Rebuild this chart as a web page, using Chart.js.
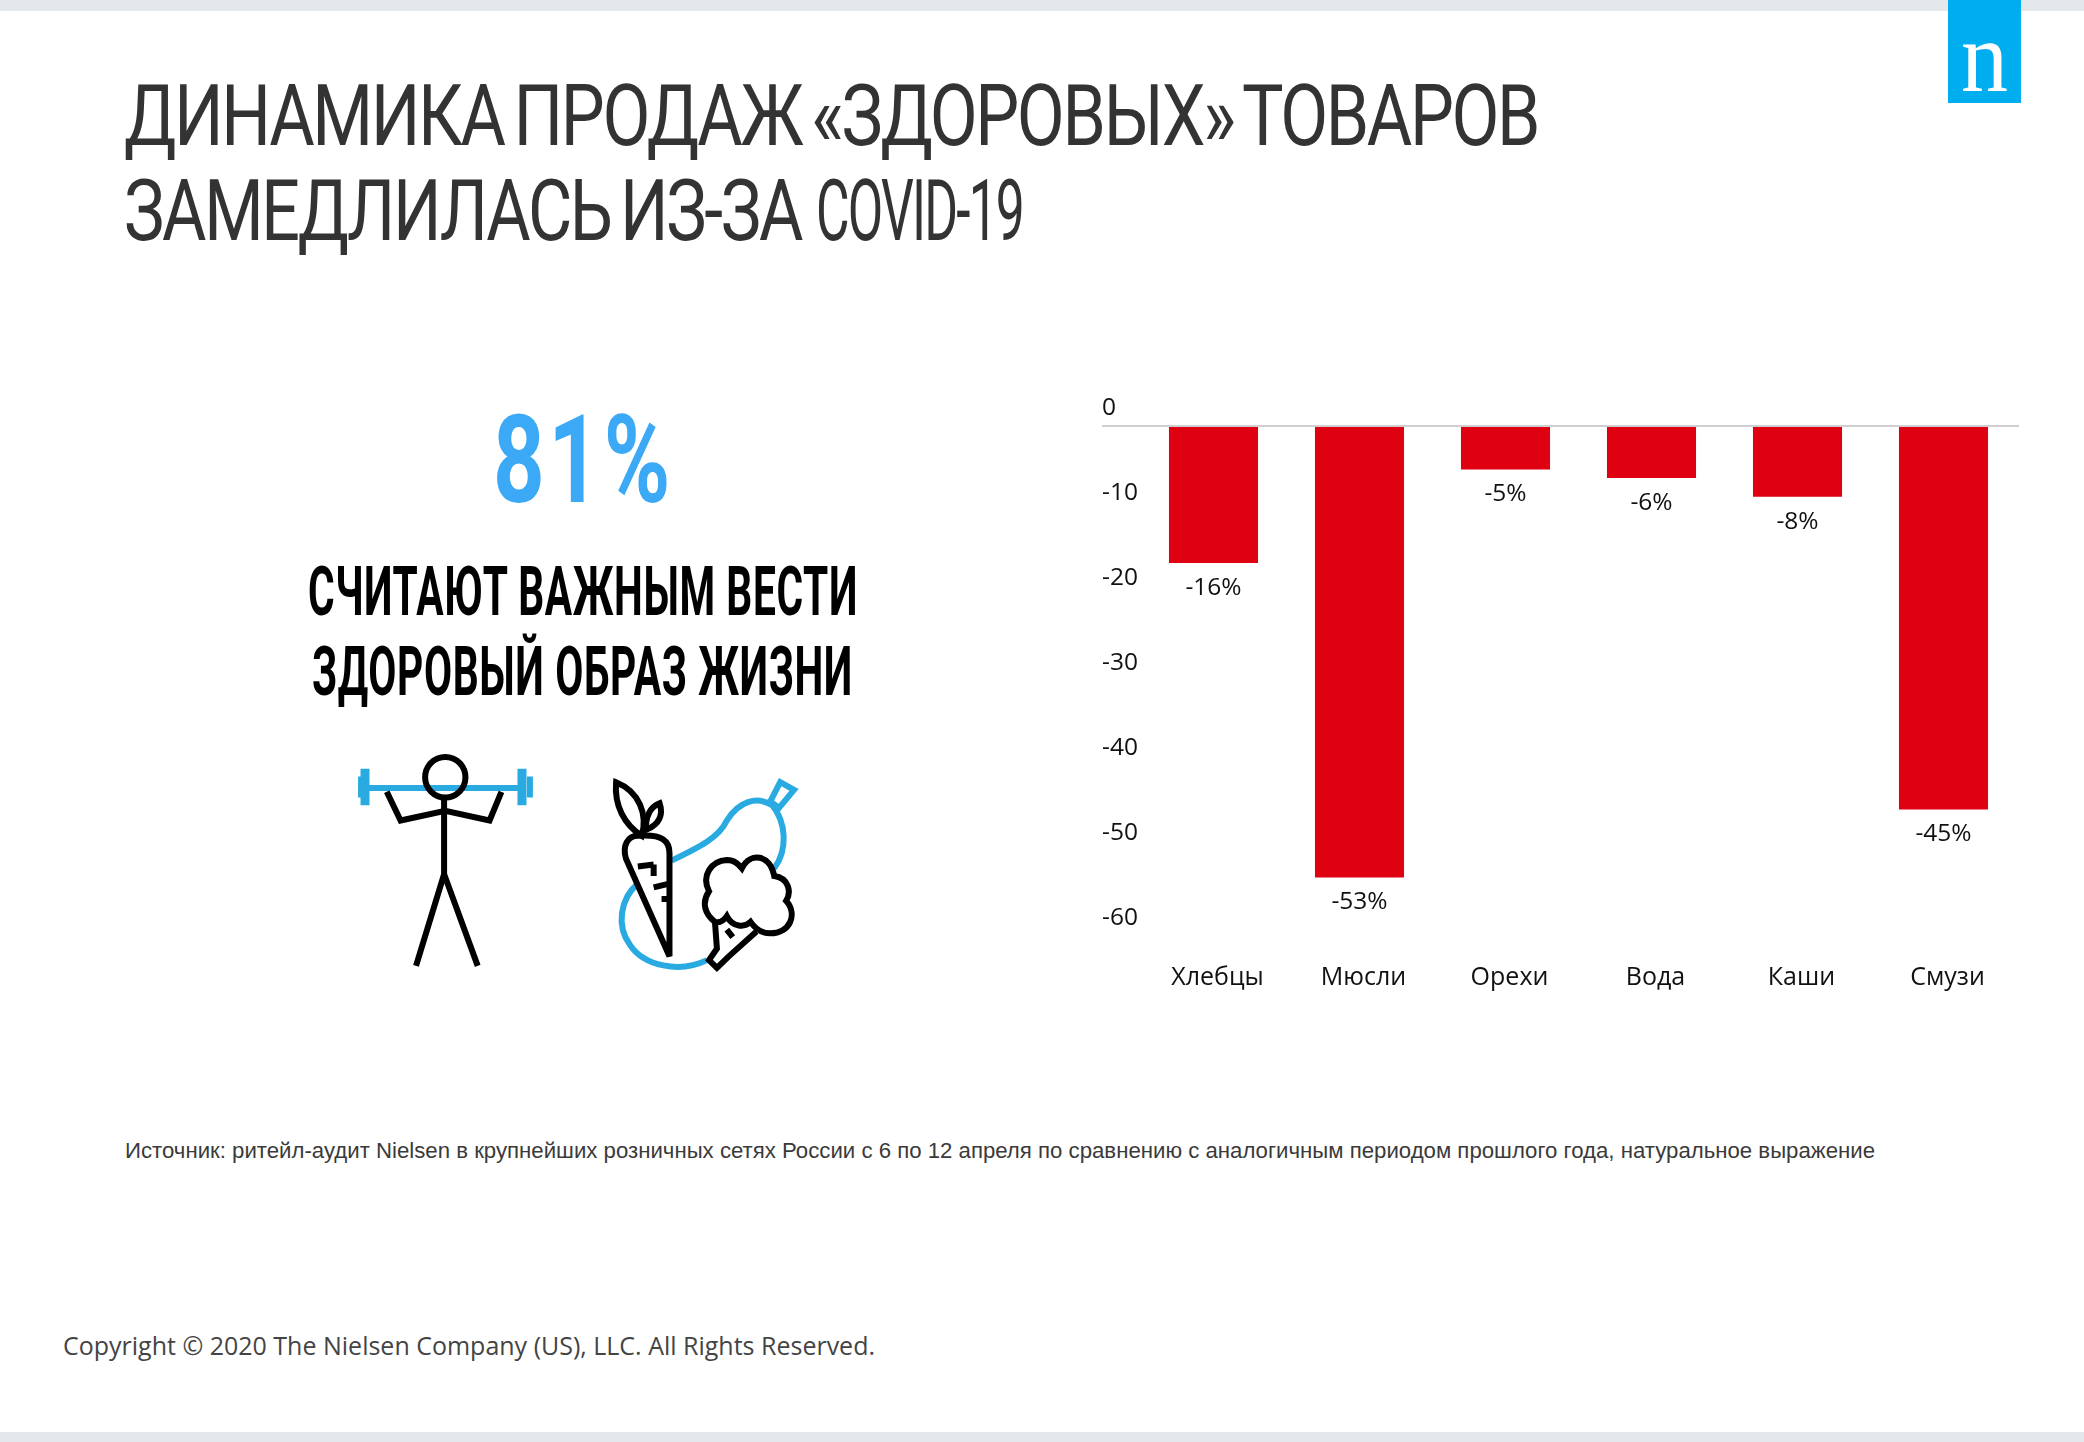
<!DOCTYPE html>
<html lang="ru"><head><meta charset="utf-8">
<script src="https://cdn.jsdelivr.net/npm/chart.js@4"></script>
<style>
html,body{margin:0;padding:0;background:#fff;width:2084px;height:1442px;overflow:hidden}
.band{position:absolute;left:0;width:2084px;height:11px;background:#E4E8EB}
.t{position:absolute;white-space:nowrap;transform-origin:0 0;display:inline-block;line-height:1}
.title{font:400 86px/1 Roboto;color:#333;letter-spacing:-3px;word-spacing:-6px}
#logo{position:absolute;left:1948px;top:0;width:73px;height:103px;background:#00AEEF}
svg{position:absolute;left:280px;top:390px}
svg *{vector-effect:non-scaling-stroke;fill:none}
canvas{position:absolute;left:1090px;top:381px}
</style></head><body>
<div class="band" style="top:0"></div>
<div class="band" style="top:1432px;height:10px"></div>
<div id="logo"></div>
<div class="t" data-w="47" style="left:1961px;top:6px;font:102px/1 'Liberation Serif';color:#fff">n</div>

<div class="t title" data-w="1414" style="left:124px;top:73px">ДИНАМИКА ПРОДАЖ «ЗДОРОВЫХ» ТОВАРОВ</div>
<div class="t title" data-w="677" style="left:124px;top:168px">ЗАМЕДЛИЛАСЬ ИЗ-ЗА</div>
<div class="t title" data-w="207" style="left:816px;top:168px">COVID-19</div>

<div class="t" data-w="181" style="left:493px;top:400px;font:700 122px/1 Roboto;color:#3BA9F5;letter-spacing:5px">81%</div>
<div class="t" data-w="550" style="left:308px;top:557px;font:700 69px/1 Roboto;color:#000;letter-spacing:1px">СЧИТАЮТ ВАЖНЫМ ВЕСТИ</div>
<div class="t" data-w="541" style="left:312px;top:637px;font:700 69px/1 Roboto;color:#000;letter-spacing:1px">ЗДОРОВЫЙ ОБРАЗ ЖИЗНИ</div>

<svg width="620" height="600" viewBox="0 0 1568 1568" preserveAspectRatio="none">
  <g stroke="#29ABE2" stroke-width="6">
    <path d="M225 1040H610"/>
    <path d="M215 990V1085M612 990V1085" stroke-width="9"/>
    <path d="M205 1010V1065M632 1010V1065" stroke-width="6"/>
    <path d="M1245 1085C1205 1060 1160 1075 1130 1125C1110 1170 1060 1195 990 1230"/>
    <path d="M905 1290C860 1330 850 1400 885 1450C920 1505 1010 1525 1080 1490"/>
    <path d="M1245 1085C1280 1130 1285 1200 1250 1250"/>
    <path d="M1240 1075L1265 1025L1300 1045L1262 1092Z"/>
  </g>
  <g stroke="#000" stroke-width="6" stroke-linejoin="miter">
    <ellipse cx="418" cy="1012" rx="51" ry="53"/>
    <path d="M270 1050L305 1125L418 1100L530 1125L560 1050"/>
    <path d="M415 1066V1265M344 1505L415 1265L500 1505"/>
    <path d="M905 1165C880 1165 865 1190 875 1225L985 1480V1210C985 1180 970 1160 905 1165Z"/>
    <path d="M905 1245L945 1240M945 1240V1270M945 1300L985 1290M965 1330H985"/>
    <path d="M915 1165C930 1110 910 1050 850 1025C845 1085 870 1135 915 1165Z"/>
    <path d="M925 1150C960 1135 970 1110 960 1080C935 1090 925 1115 925 1150Z"/>
    <path d="M1100 1390C1075 1370 1065 1340 1085 1310C1065 1270 1090 1230 1130 1228C1150 1228 1160 1240 1168 1250C1190 1205 1240 1215 1250 1270C1285 1275 1295 1310 1280 1335C1310 1370 1290 1420 1240 1420C1215 1420 1200 1405 1190 1390C1175 1405 1145 1405 1130 1375C1120 1390 1110 1393 1100 1390Z"/>
    <path d="M1100 1390L1105 1460L1085 1490L1105 1510L1135 1480L1205 1415M1130 1410L1145 1430"/>
  </g>
</svg>

<canvas id="c" width="950" height="616" style="width:950px;height:616px"></canvas>

<div class="t" data-w="1750" style="left:125px;top:1140px;font:22px/1 'Liberation Sans';color:#3a3a3a">Источник: ритейл-аудит Nielsen в крупнейших розничных сетях России с 6 по 12 апреля по сравнению с аналогичным периодом прошлого года, натуральное выражение</div>
<div class="t" data-w="812" style="left:63px;top:1332px;font:26px/1 'Open Sans';color:#444">Copyright © 2020 The Nielsen Company (US), LLC. All Rights Reserved.</div>

<script>
const categories = ['Хлебцы','Мюсли','Орехи','Вода','Каши','Смузи'];
const salesChange = [-16,-53,-5,-6,-8.2,-45];
const valueLabels = ['-16%','-53%','-5%','-6%','-8%','-45%'];
const FONT = "'Open Sans'";

document.querySelectorAll('.t').forEach(el=>{
  const w = +el.dataset.w;
  el.style.transform = 'scaleX(' + (w/el.getBoundingClientRect().width) + ')';
});

const baselineAndLabels = {
  id:'baselineAndLabels',
  afterDatasetsDraw(chart){
    const {ctx,scales:{y}} = chart;
    const y0 = Math.round(y.getPixelForValue(0));
    ctx.save();
    ctx.strokeStyle='#CFCFD2'; ctx.lineWidth=2;
    ctx.beginPath(); ctx.moveTo(y.left,y0-1); ctx.lineTo(chart.width-21,y0-1); ctx.stroke();
    ctx.font='24.5px '+FONT; ctx.fillStyle='#111'; ctx.textAlign='center'; ctx.textBaseline='middle';
    chart.getDatasetMeta(0).data.forEach((bar,i)=>ctx.fillText(valueLabels[i],bar.x,bar.y+25));
    ctx.restore();
  }
};

new Chart(document.getElementById('c'),{
  type:'bar',
  data:{labels:categories,datasets:[{data:salesChange,backgroundColor:'#DF0012',borderWidth:0,barPercentage:0.61,categoryPercentage:1}]},
  options:{
    responsive:false,animation:false,devicePixelRatio:1,
    layout:{padding:{left:12,right:23.5,top:46,bottom:0}},
    plugins:{legend:{display:false},tooltip:{enabled:false},title:{display:false}},
    scales:{
      x:{
        grid:{display:false},border:{display:false},
        ticks:{color:'#111',font:{family:FONT,size:25},padding:18,labelOffset:4,maxRotation:0},
        afterFit(s){s.height=60;}
      },
      y:{
        min:-60,max:0,
        grid:{display:false,drawTicks:true,tickLength:3},border:{display:false},
        ticks:{stepSize:10,color:'#111',font:{family:FONT,size:24.5},crossAlign:'far',labelOffset:-19,padding:0},
        afterFit(s){s.width=38.5;}
      }
    }
  },
  plugins:[baselineAndLabels]
});
</script>
</body></html>
